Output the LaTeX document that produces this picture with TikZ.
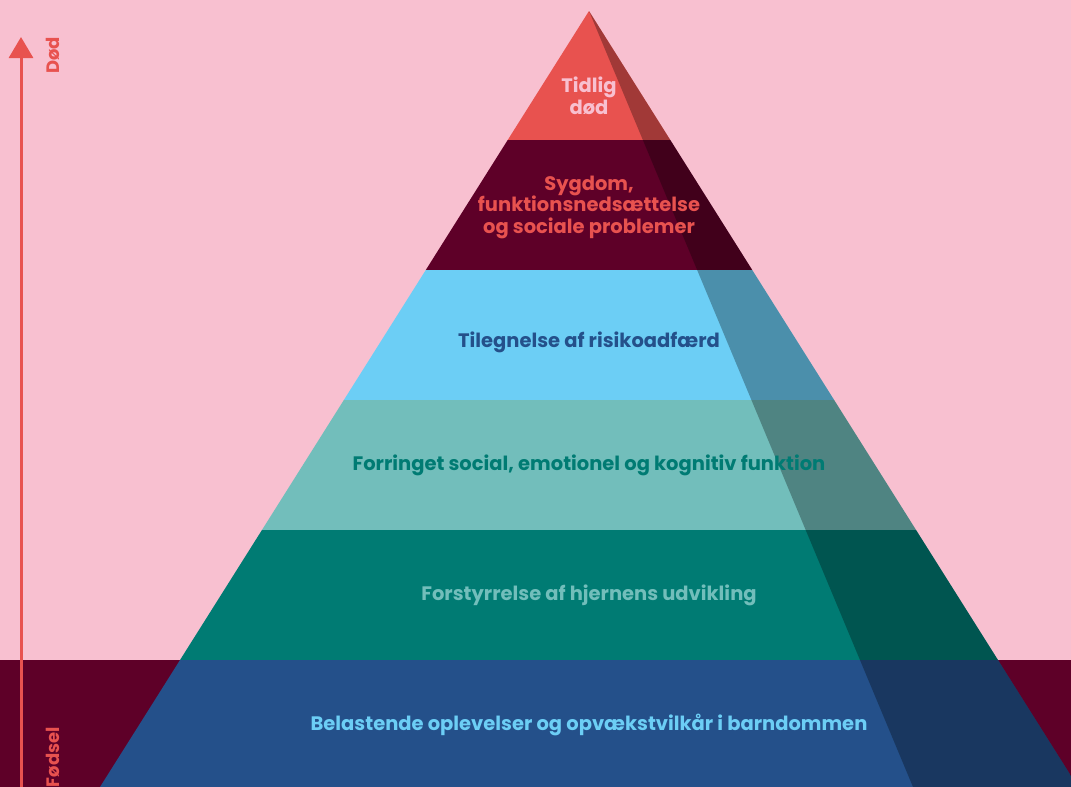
\documentclass[tikz,border=0pt]{standalone}
\usepackage{fontspec}
\setmainfont{Poppins}
\usetikzlibrary{arrows.meta}
\definecolor{bgpink}{HTML}{F8C0D0}
\definecolor{deathred}{HTML}{E8524F}
\definecolor{maroon}{HTML}{5E0028}
\definecolor{skyblue}{HTML}{6CCEF5}
\definecolor{paleteal}{HTML}{72BEBB}
\definecolor{deepteal}{HTML}{007B73}
\definecolor{navyblue}{HTML}{24508A}
\tikzset{
  lvl/.style={font=\bfseries\fontsize{19.5}{21.5}\selectfont, align=center, inner sep=0pt},
  axislabel/.style={font=\bfseries\fontsize{18}{18}\selectfont, text=deathred, rotate=90, anchor=east, inner sep=0pt},
}
\begin{document}
\begin{tikzpicture}[x=1pt,y=-1pt]
  \useasboundingbox (0,0) rectangle (1071,787);
  \clip (0,0) rectangle (1071,787);
  % background and the dark strip behind the base level
  \fill[bgpink] (0,0) rectangle (1071,787);
  \fill[maroon] (0,660) rectangle (1071,787);

  % pyramid levels
  \begin{scope}
    \clip (589,11) -- (1078,787) -- (100,787) -- cycle;
    \fill[deathred] (0,0)   rectangle (1100,140);
    \fill[maroon]   (0,140) rectangle (1100,270);
    \fill[skyblue]  (0,270) rectangle (1100,400);
    \fill[paleteal] (0,400) rectangle (1100,530);
    \fill[deepteal] (0,530) rectangle (1100,660);
    \fill[navyblue] (0,660) rectangle (1100,787);
  \end{scope}
  % shaded right face
  \fill[black, opacity=0.3] (589,11) -- (1078,787) -- (913,787) -- cycle;

  % level labels
  \node[lvl, text=bgpink]   (l6) at (589,96)  {Tidlig\\død};
  \node[lvl, text=deathred] (l5) at (589,207) {Sygdom,\\funktionsnedsættelse\\og sociale problemer};
  \node[lvl, text=navyblue] (l4) at (589,342) {Tilegnelse af risikoadfærd};
  \node[lvl, text=deepteal] (l3) at (589,465) {Forringet social, emotionel og kognitiv funktion};
  \node[lvl, text=paleteal] (l2) at (589,595) {Forstyrrelse af hjernens udvikling};
  \node[lvl, text=skyblue]  (l1) at (589,725) {Belastende oplevelser og opvækstvilkår i barndommen};

  % life axis from birth to death
  \coordinate (birth) at (21,787);
  \coordinate (death) at (21,37);
  \draw[deathred, line width=3pt, -{Triangle[width=24pt,length=21pt]}] (birth) -- (death);
  \node[axislabel] (dod) at (53,37) {Død};
  \node[axislabel] (fodsel) at (53,727) {Fødsel};
\end{tikzpicture}
\end{document}
